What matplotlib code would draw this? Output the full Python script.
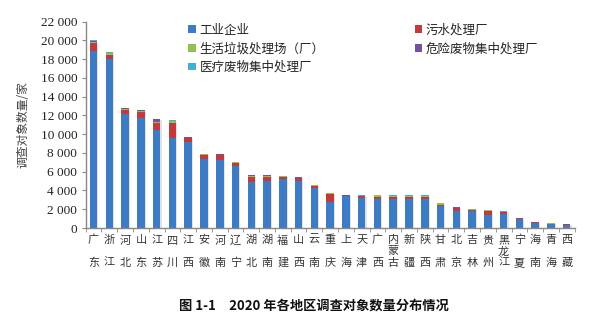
import matplotlib
matplotlib.use("Agg")
import matplotlib.pyplot as plt
import numpy as np
from matplotlib.ticker import FuncFormatter

provinces = ["广东", "浙江", "河北", "山东", "江苏", "四川", "江西", "安徽", "河南", "辽宁",
             "湖北", "湖南", "福建", "山西", "云南", "重庆", "上海", "天津", "广西", "内蒙古",
             "新疆", "陕西", "甘肃", "北京", "吉林", "贵州", "黑龙江", "宁夏", "海南", "青海", "西藏"]

industry = [18900, 18000, 12200, 11750, 10450, 9650, 9150, 7350, 7250, 6650,
            4950, 5050, 5200, 5000, 4250, 2800, 3400, 3250, 3050, 3100,
            3100, 3050, 2300, 1850, 1780, 1400, 1500, 920, 490, 390, 340]
sewage = [800, 500, 400, 650, 800, 1600, 400, 450, 500, 300,
          500, 420, 250, 300, 230, 850, 50, 180, 300, 220,
          250, 300, 150, 320, 150, 450, 180, 100, 110, 50, 40]
garbage = [150, 120, 120, 100, 100, 150, 100, 80, 60, 50,
           120, 120, 80, 80, 100, 60, 10, 10, 120, 120,
           100, 100, 200, 10, 60, 80, 60, 70, 40, 60, 60]
hazardous = [100, 80, 30, 100, 250, 30, 20, 20, 30, 20,
             30, 20, 30, 30, 20, 20, 40, 20, 10, 10,
             10, 10, 10, 20, 10, 10, 20, 10, 10, 10, 5]
medical = [50, 30, 30, 30, 30, 40, 30, 40, 60, 30,
           30, 20, 20, 20, 20, 20, 20, 20, 20, 20,
           20, 20, 30, 20, 20, 20, 20, 20, 10, 10, 5]

series_names = ["工业企业", "污水处理厂", "生活垃圾处理场（厂）", "危险废物集中处理厂", "医疗废物集中处理厂"]
series_colors = ["#3d7cc4", "#c23a3e", "#93bf4f", "#7153a0", "#3fb1cf"]

cjk = ["Noto Sans CJK SC", "DejaVu Sans"]
serif = ["Liberation Serif", "DejaVu Serif"]
plt.rcParams["font.family"] = serif

fig = plt.figure(figsize=(6.04, 3.36), dpi=100)
ax = fig.add_axes([0.1419, 0.3214, 0.8094, 0.614])

x = np.arange(len(provinces))
width = 0.48
data = [industry, sewage, garbage, hazardous, medical]
totals = np.sum(np.array(data), axis=0)

# soft shadow
ax.bar(x + 0.07, totals, width, bottom=-120, color="#bfbfbf", alpha=0.45, zorder=1, linewidth=0)

bottom = np.zeros(len(provinces))
handles = []
for vals, name, col in zip(data, series_names, series_colors):
    h = ax.bar(x, vals, width, bottom=bottom, color=col, label=name, zorder=2, linewidth=0)
    handles.append(h)
    bottom += np.array(vals)

ax.set_xlim(-0.5, len(provinces) - 0.5)
ax.set_ylim(0, 22000)
ax.set_yticks(np.arange(0, 22001, 2000))
ax.yaxis.set_major_formatter(FuncFormatter(lambda v, p: f"{int(v):,}".replace(",", " ")))
ax.tick_params(axis="y", length=3, color="#888888", direction="out", pad=3,
               labelsize=9.5, labelcolor="#222222")

# x category labels, stacked vertically character by character
ax.set_xticks(x)
ax.set_xticklabels([])
ax.set_xticks(np.arange(-0.5, len(provinces), 1), minor=True)
ax.tick_params(axis="x", which="major", length=0)
ax.tick_params(axis="x", which="minor", length=3, color="#888888", direction="out")
pitch = 8.2  # points between character rows
for i, p in enumerate(provinces):
    rows = [0, 2] if len(p) == 2 else list(range(len(p)))
    for ch, r in zip(p, rows):
        ax.annotate(ch, xy=(i, 0), xycoords=("data", "axes fraction"),
                    xytext=(0, -5 - r * pitch), textcoords="offset points",
                    ha="center", va="top", fontfamily=cjk, fontsize=8, color="#333333")

for s in ["top", "right"]:
    ax.spines[s].set_visible(False)
for s in ["left", "bottom"]:
    ax.spines[s].set_color("#888888")
    ax.spines[s].set_linewidth(1.0)

ax.set_ylabel("调查对象数量/家", fontfamily=cjk, fontsize=8.5, color="#444444", labelpad=8)

order = [0, 2, 4, 1, 3]
leg = ax.legend([handles[i] for i in order], [series_names[i] for i in order],
                ncol=2, loc="upper left", bbox_to_anchor=(0.187, 1.045), frameon=False,
                prop={"family": cjk, "size": 9}, handlelength=0.6, handleheight=0.6,
                handletextpad=0.3, columnspacing=7.2, labelspacing=0.45)
for t in leg.get_texts():
    t.set_color("#222222")

fig.text(0.52, 0.09, "图 1-1　2020 年各地区调查对象数量分布情况", ha="center", va="center",
         fontfamily=cjk, fontsize=9.5, fontweight="bold", color="#111111")

fig.savefig("out.png", dpi=100)
